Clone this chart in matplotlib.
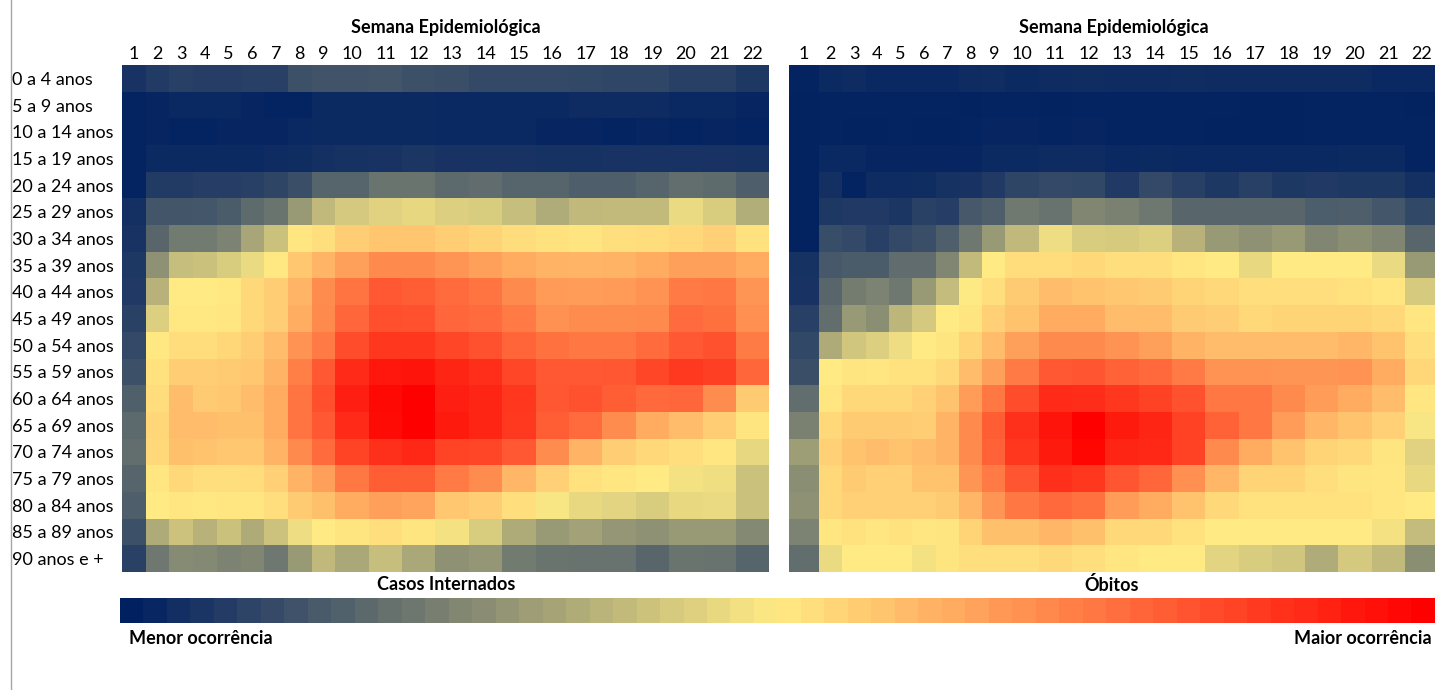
import numpy as np
import matplotlib
matplotlib.use('Agg')
import matplotlib.pyplot as plt
from matplotlib.colors import LinearSegmentedColormap
from matplotlib.lines import Line2D

plt.rcParams['font.family'] = ['Lato', 'DejaVu Sans']

# data: colour-scale position of each cell (0 = menor, 100 = maior ocorrência)
semanas = [str(i) for i in range(1, 23)]
faixas = ['0 a 4 anos', '5 a 9 anos', '10 a 14 anos', '15 a 19 anos', '20 a 24 anos',
          '25 a 29 anos', '30 a 34 anos', '35 a 39 anos', '40 a 44 anos', '45 a 49 anos',
          '50 a 54 anos', '55 a 59 anos', '60 a 64 anos', '65 a 69 anos', '70 a 74 anos',
          '75 a 79 anos', '80 a 84 anos', '85 a 89 anos', '90 anos e +']

internados = [
    [5, 7, 8, 7.5, 7.5, 8, 8, 12, 12.5, 12.5, 13, 12, 11.5, 10.5, 10.5, 10.5, 10, 9.5, 9.5, 8, 8, 6],
    [1, 1.5, 2, 2, 2, 1.5, 1, 1, 2.5, 2.5, 2.5, 2.5, 2, 2, 2, 2, 3, 3, 3, 2, 2, 1.5],
    [1, 1.5, 1, 1, 1.5, 1.5, 1.5, 2, 2.5, 2.5, 2.5, 2.5, 2, 2, 2, 1.5, 1.5, 1, 1.5, 1, 1.5, 1],
    [1, 2.5, 2.5, 2.5, 2.5, 2.5, 3, 3.5, 4, 4.5, 5, 5.5, 5, 5, 5, 4.5, 4.5, 5, 5, 5, 5, 4.5],
    [1, 7, 7, 7.5, 7.5, 8, 9, 11.5, 17, 17, 21, 21, 18, 19, 17, 17, 15.5, 15.5, 17, 19.5, 18.5, 15.5],
    [4, 13, 13, 13.5, 14.5, 18.5, 21, 30, 37.5, 41.5, 44, 45, 43, 42.5, 39, 34.5, 37.5, 38, 38, 46, 42.5, 35],
    [5, 17.5, 22.5, 22.5, 24.5, 33, 39.5, 51, 52.5, 56, 58, 58, 56.5, 55, 53, 52, 51.5, 52.5, 53, 54, 55.5, 52],
    [6, 28, 39, 39.5, 42.5, 46, 50.5, 57.5, 61.5, 66, 70.5, 70.5, 68, 66, 63.5, 62, 61.5, 62, 63.5, 66, 66, 63.5],
    [6.5, 36, 50, 50, 50.5, 54, 56, 61.5, 70, 75, 81, 80, 77, 75, 70.5, 67, 66.5, 67, 68.5, 74, 74.5, 68],
    [8.5, 43, 50.5, 50.5, 51, 54, 56.5, 63, 70.5, 78, 83, 82.5, 78, 77, 74, 69, 70, 70, 70.5, 77, 76, 69.5],
    [10.5, 50.5, 53, 53, 54.5, 56.5, 60, 68.5, 74, 83.5, 88, 88, 85, 82.5, 78.5, 75.5, 74.5, 74.5, 77, 81, 82.5, 73.5],
    [12, 52, 56.5, 56.5, 57, 57.5, 62, 73, 81, 91, 95, 95.5, 92, 90, 85, 81, 81, 81.5, 85, 87.5, 86.5, 78],
    [16, 53, 60, 57, 57.5, 60, 63.5, 75, 83, 93, 98, 100, 93, 92, 88, 81.5, 82.5, 80, 77.5, 78, 70, 57],
    [18, 54.5, 60, 60, 59, 59, 63.5, 75, 81, 91, 97.5, 100, 94.5, 92, 87.5, 80, 77, 70, 63.5, 60, 56.5, 51.5],
    [19.5, 54, 59, 58.5, 57.5, 57.5, 62, 70.5, 77, 85.5, 89.5, 91.5, 85.5, 85, 81, 70, 62, 56.5, 54, 52.5, 51, 45],
    [17, 51, 54, 52.5, 52.5, 53, 55.5, 62, 66, 74.5, 80, 80, 74, 70, 61, 55.5, 52, 51, 50.3, 48, 47, 39.5],
    [15.5, 50, 51, 50.5, 51, 51, 52.5, 57, 59, 63.5, 66, 65, 57.5, 56.5, 52.5, 48.5, 45.5, 44.5, 42.5, 45.5, 46, 39.5],
    [12, 34, 40, 36, 39.5, 34, 40, 46.5, 50, 51.5, 52.5, 51.5, 48, 42.5, 34, 30, 32, 29, 28, 30, 30, 26],
    [8.5, 21.5, 26.5, 26, 24.5, 25, 21.5, 30, 37.5, 33.5, 39, 33.5, 28, 29, 22.5, 21, 20.5, 20.5, 17.5, 21, 20.5, 17],
]

obitos = [
    [1, 2.5, 3, 2, 2, 2, 2, 3, 3.5, 2.5, 3, 3.5, 3, 3, 3.5, 3, 3, 3, 3, 3, 2, 2],
    [0.5, 1, 1, 1, 1, 1, 1, 0.5, 1, 1, 0.5, 1, 1, 1, 1, 1, 0.5, 0.5, 1, 1, 1, 0.5],
    [0.5, 1, 0.5, 0.5, 1, 0.5, 0.5, 1, 1.5, 1.5, 1, 1.5, 1, 1, 1, 0.5, 0.5, 0.5, 1, 1, 1, 1],
    [0.5, 2, 2, 1.5, 1.5, 1.5, 1.5, 1.5, 2.5, 2.5, 3, 3, 2, 2.5, 2, 2, 2, 2, 2, 2.5, 2.5, 1],
    [0.5, 4, 1, 3, 3, 3.5, 4.5, 5, 6.5, 9, 10.5, 10, 6.5, 10.5, 8, 6, 8, 6, 6.5, 6, 6, 4],
    [0.5, 6, 6.5, 6.5, 5.5, 8.5, 7.5, 14, 15.5, 22, 20.5, 25, 24, 21.5, 17.5, 17.5, 17.5, 17.5, 15, 15.5, 13.5, 10],
    [0.5, 11, 10.5, 8, 10.5, 11.5, 15.5, 21.5, 30, 37.5, 46.5, 42.5, 42, 43, 36, 30, 28, 30, 25, 27, 25, 17.5],
    [4.5, 14, 14.5, 14.5, 19, 19, 25, 38, 50, 53, 53, 54, 52.5, 52.5, 51, 50, 45.5, 50, 50, 50, 46, 30],
    [5, 17.5, 23, 24.5, 21.5, 30, 38.5, 49.8, 52.5, 57, 60, 58.5, 57.5, 57, 55, 54, 52.5, 52.5, 52.5, 52, 51, 42],
    [8, 19.5, 30, 27, 37, 41.5, 50, 51.5, 55.5, 58.5, 63.5, 63.5, 60, 60, 57, 56.5, 54, 55, 55, 55, 54, 51],
    [10, 34, 41, 43, 46.5, 50, 51.5, 55, 60, 66, 70.5, 70.5, 68.5, 66, 62, 60, 60, 60, 60, 61, 58.5, 52.5],
    [11.5, 50, 51.5, 51, 52, 52, 54, 60, 66, 74, 81, 82, 79, 77.5, 74, 68.5, 68.5, 68, 68, 68.5, 63.5, 54.5],
    [19.5, 51, 54, 54, 54, 55.5, 58.5, 66.5, 74.5, 83.5, 91, 90.5, 88, 86, 82.5, 74.5, 74.5, 70.5, 66.5, 63.5, 60, 51],
    [24, 54, 57, 57, 57, 56.5, 62, 70.5, 80, 89.5, 95.5, 100, 94.5, 92, 86, 79, 74.5, 66.5, 61, 58.5, 55.5, 48.5],
    [31, 55.5, 58.5, 60, 58.5, 60, 62, 70.5, 79, 88, 94.5, 98.5, 92, 91.5, 86, 70.5, 63.5, 58.5, 55, 54, 51.5, 44],
    [27, 54, 57, 55.5, 55.5, 58.5, 58.5, 68, 74, 82, 89.5, 88, 82, 78, 69.5, 61, 55, 55, 52.5, 51.5, 51, 45.5],
    [28, 54, 55.5, 55.5, 55.5, 55.5, 57, 61, 68, 74.5, 77.5, 75.5, 66.5, 63.5, 58.5, 54, 52, 52, 52, 52, 51, 50],
    [24.5, 51, 52, 51, 52, 51, 51.5, 55, 59, 59, 61, 59, 54, 54, 52, 50.3, 50.3, 50, 50, 50, 48, 38.5],
    [19.5, 46, 50, 50, 50, 48, 51.5, 52.5, 52.5, 52.5, 54, 52.5, 51, 50.3, 50.3, 44.5, 42.5, 41, 34.5, 41.5, 38, 27],
]

cmap = LinearSegmentedColormap.from_list('escala', ['#002060', '#FFEB84', '#FF0000'])

W, H = 1435, 690
fig = plt.figure(figsize=(W / 100, H / 100), dpi=100)
FS = 13


def px_axes(x0, y0, x1, y1):
    return fig.add_axes([x0 / W, 1 - y1 / H, (x1 - x0) / W, (y1 - y0) / H])


def heatmap(x0, widths, values, ylabels=None):
    edges = np.concatenate([[0], np.cumsum(widths)])
    ax = px_axes(x0, 65, x0 + edges[-1], 572)
    ax.pcolormesh(edges, np.arange(len(faixas) + 1), np.array(values), cmap=cmap,
                  vmin=0, vmax=100, shading='flat', antialiased=False, edgecolors='none')
    ax.set_xlim(0, edges[-1])
    ax.set_ylim(len(faixas), 0)
    ax.xaxis.tick_top()
    ax.set_xticks((edges[:-1] + edges[1:]) / 2, semanas, fontsize=FS)
    ax.tick_params(axis='x', length=0, pad=2)
    if ylabels:
        ax.set_yticks(np.arange(len(faixas)) + 0.5, ylabels, fontsize=FS, ha='left')
        ax.tick_params(axis='y', length=0, pad=(x0 - 12) * 0.72)
    else:
        ax.set_yticks([])
    for s in ax.spines.values():
        s.set_visible(False)
    fig.text((x0 + edges[-1] / 2) / W, 1 - 27 / H, 'Semana Epidemiológica',
             ha='center', va='center', fontsize=FS, fontweight='bold')
    return ax


heatmap(122, [23.7] * 9 + [33.4] * 13, internados, faixas)
heatmap(789, [30] + [23.3] * 8 + [33.3] * 13, obitos)

# colour scale bar
cax = px_axes(120, 598, 1435, 623)
cax.imshow(np.linspace(0, 100, 56)[None, :], cmap=cmap, vmin=0, vmax=100,
           aspect='auto', interpolation='nearest')
cax.axis('off')

fig.text(446 / W, 1 - 585 / H, 'Casos Internados', ha='center', va='center',
         fontsize=FS, fontweight='bold')
fig.text(1112 / W, 1 - 585 / H, 'Óbitos', ha='center', va='center',
         fontsize=FS, fontweight='bold')
fig.text(129 / W, 1 - 638 / H, 'Menor ocorrência', ha='left', va='center',
         fontsize=FS, fontweight='bold')
fig.text(1432 / W, 1 - 638 / H, 'Maior ocorrência', ha='right', va='center',
         fontsize=FS, fontweight='bold')

fig.add_artist(Line2D([10.5 / W, 10.5 / W], [0, 1], color='#a6a6a6', lw=1))

fig.savefig('out.png', dpi=100)
